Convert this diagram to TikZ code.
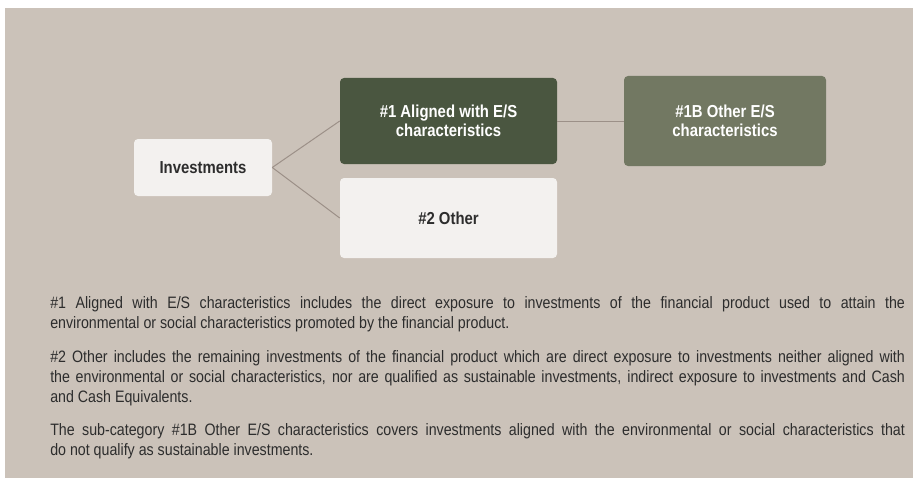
\documentclass[tikz,border=0pt]{standalone}
\usepackage{fontspec}
\setmainfont{Liberation Sans}[FakeStretch=0.86]
\usepackage{xcolor}
\usepackage{tikz}
\usetikzlibrary{positioning}
\definecolor{ESBack}{RGB}{203,194,185}
\definecolor{ESDark}{RGB}{74,86,64}
\definecolor{ESMid}{RGB}{114,120,98}
\definecolor{ESLight}{RGB}{243,241,239}
\definecolor{ESLine}{RGB}{156,144,136}
\definecolor{ESText}{RGB}{45,45,45}

\begin{document}
\begin{tikzpicture}[x=0.75pt, y=-0.75pt,
    box/.style={rounded corners=3pt, align=center, inner sep=2pt,
        font=\fontsize{13}{14.25}\selectfont\bfseries},
    lightbox/.style={box, fill=ESLight, text=ESText},
    link/.style={draw=ESLine, line width=0.75pt},
    note/.style={anchor=north west, inner sep=0pt, text width=641pt, align=justify,
        text=ESText, font=\fontsize{12.4}{15}\selectfont}]
    % Hintergrund
    \useasboundingbox (0,0) rectangle (913,478);
    \fill[ESBack] (5,8) rectangle (913,478);

    % Kategorien
    \node[lightbox, minimum width=103.5pt, minimum height=42.75pt] (inv) at (203,167.5) {Investments};
    \node[box, fill=ESDark, text=white, minimum width=162.75pt, minimum height=64.5pt] (aligned) at (448.5,121) {\#1 Aligned with E/S\\characteristics};
    \node[lightbox, minimum width=162.75pt, minimum height=60pt] (other) at (448.5,218) {\#2 Other};
    \node[box, fill=ESMid, text=white, minimum width=151.5pt, minimum height=67.5pt] (otheres) at (725,121) {\#1B Other E/S\\characteristics};

    % Verbindungen
    \draw[link] (inv.east) -- (aligned.west);
    \draw[link] (inv.east) -- (other.west);
    \draw[link] (aligned.east) -- (otheres.west);

    % Erlaeuterungen
    \node[note] (noteA) at (50,296) {\#1 Aligned with E/S characteristics includes the direct exposure to investments of the financial product used to attain the\linebreak environmental or social characteristics promoted by the financial product.};
    \node[note] (noteB) at (50,350) {\#2 Other includes the remaining investments of the financial product which are direct exposure to investments neither aligned with\linebreak the environmental or social characteristics, nor are qualified as sustainable investments, indirect exposure to investments and Cash\linebreak and Cash Equivalents.};
    \node[note] (noteC) at (50,423) {The sub-category \#1B Other E/S characteristics covers investments aligned with the environmental or social characteristics that\linebreak do not qualify as sustainable investments.};
\end{tikzpicture}
\end{document}
